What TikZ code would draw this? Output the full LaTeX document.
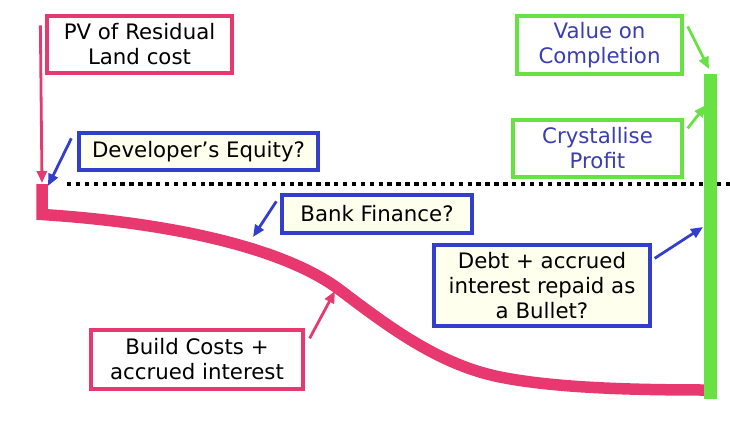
\documentclass[tikz,border=0pt]{standalone}
\usepackage{fontspec}
\setmainfont{DejaVu Sans}
\usetikzlibrary{arrows.meta}
\definecolor{pk}{RGB}{232,56,112}
\definecolor{gr}{RGB}{104,226,66}
\definecolor{bl}{RGB}{52,62,204}
\definecolor{bltext}{RGB}{58,62,176}
\definecolor{cream}{RGB}{255,255,238}
\begin{document}
\begin{tikzpicture}[x=1pt,y=-1pt,
  box/.style={draw, line width=3.3pt, inner sep=0pt, align=center, font=\fontsize{21.3}{25}\selectfont},
  pinkbox/.style={box, draw=pk, fill=white, text=black},
  greenbox/.style={box, draw=gr, fill=white, text=bltext},
  bluebox/.style={box, draw=bl, fill=cream, text=black},
  arr/.style={line width=2.8pt, -{Triangle[length=12pt,width=10pt]}},
]
\useasboundingbox (0,0) rectangle (730,420);

% dotted line
\coordinate (dotL) at (67,184);
\coordinate (dotR) at (730,184);
\draw[line width=4.4pt, dash pattern=on 4.4pt off 4.5pt] (dotL) -- (dotR);

% pink cost curve
\draw[pk, line width=11.5pt, line join=miter] (42,184) -- (42,214.5)
  .. controls (160,222) and (280,245) .. (340,290)
  .. controls (390,328) and (440,365) .. (500,377)
  .. controls (550,387) and (620,390) .. (706,390);

% green value bar
\coordinate (gtop) at (710.5,74);
\coordinate (gbot) at (710.5,399);
\draw[gr, line width=13pt] (gtop) -- (gbot);

% boxes
\node[pinkbox, minimum width=185pt, minimum height=57pt] (pv) at (139.5,44.5) {PV of Residual\\Land cost};
\node[greenbox, minimum width=165pt, minimum height=58pt] (val) at (599.5,45) {Value on\\Completion};
\node[greenbox, minimum width=169pt, minimum height=57pt] (cry) at (597.5,148.5) {Crystallise\\Profit};
\node[bluebox, minimum width=239pt, minimum height=37pt] (deq) at (198.5,151.5) {Developer’s Equity?};
\node[bluebox, minimum width=190pt, minimum height=38pt] (bank) at (377,214) {Bank Finance?};
\node[bluebox, minimum width=216pt, minimum height=81pt] (debt) at (542,285.5) {Debt + accrued\\interest repaid as\\a Bullet?};
\node[pinkbox, minimum width=212pt, minimum height=59pt] (build) at (197,359.5) {Build Costs +\\accrued interest};

% arrow targets
\coordinate (landpt) at (42,183);
\coordinate (eqpt) at (48,186);
\coordinate (valpt) at (709,69);
\coordinate (crypt) at (706,105);
\coordinate (bankpt) at (253,237);
\coordinate (debtpt) at (703,227);
\coordinate (buildpt) at (335,291);

% arrows
\draw[arr, pk] ([shift={(-5,11)}]pv.north west) -- (landpt);
\draw[arr, bl] ([shift={(-6,7)}]deq.north west) -- (eqpt);
\draw[arr, gr] ([shift={(4,12)}]val.north east) -- (valpt);
\draw[arr, gr] ([shift={(4,10)}]cry.north east) -- (crypt);
\draw[arr, bl] ([shift={(-4,8)}]bank.north west) -- (bankpt);
\draw[arr, bl] ([shift={(3,15)}]debt.north east) -- (debtpt);
\draw[arr, pk] ([shift={(5,10)}]build.north east) -- (buildpt);
\end{tikzpicture}
\end{document}
